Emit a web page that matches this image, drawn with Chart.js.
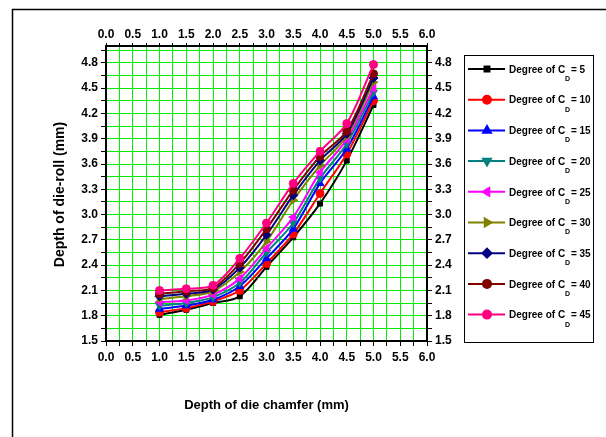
<!DOCTYPE html>
<html>
<head>
<meta charset="utf-8">
<script src="https://cdn.jsdelivr.net/npm/chart.js@4.4.0/dist/chart.umd.min.js"></script>
<style>
  html, body { margin: 0; padding: 0; background: #fff; }
  #wrap { width: 606px; height: 437px; position: relative; }
</style>
</head>
<body>
<div id="wrap"><canvas id="chart"></canvas></div>
<script>
// chamfer depth (mm)
var chamferDepth = [1.0, 1.5, 2.0, 2.5, 3.0, 3.5, 4.0, 4.5, 5.0];

// die-roll depth (mm) for each degree of CD
var cd5  = [1.81, 1.87, 1.95, 2.03, 2.38, 2.73, 3.13, 3.64, 4.30];
var cd10 = [1.84, 1.89, 1.97, 2.10, 2.42, 2.77, 3.25, 3.72, 4.35];
var cd15 = [1.88, 1.92, 1.99, 2.15, 2.48, 2.83, 3.37, 3.78, 4.40];
var cd20 = [1.92, 1.95, 2.02, 2.19, 2.55, 2.90, 3.43, 3.84, 4.45];
var cd25 = [1.96, 1.98, 2.05, 2.24, 2.60, 2.97, 3.50, 3.89, 4.50];
var cd30 = [2.00, 2.03, 2.09, 2.32, 2.68, 3.17, 3.58, 3.93, 4.57];
var cd35 = [2.03, 2.06, 2.11, 2.37, 2.76, 3.23, 3.64, 3.96, 4.62];
var cd40 = [2.06, 2.09, 2.13, 2.42, 2.83, 3.29, 3.69, 3.99, 4.67];
var cd45 = [2.10, 2.12, 2.16, 2.48, 2.90, 3.37, 3.75, 4.08, 4.78];

var degreeLabels = ['5', '10', '15', '20', '25', '30', '35', '40', '45'];
var seriesValues = [cd5, cd10, cd15, cd20, cd25, cd30, cd35, cd40, cd45];

// axis ticks
var xTicks = [];
for (var i = 0; i <= 24; i++) xTicks.push(i * 0.25);
var yTicks = [];
for (var j = 0; j <= 23; j++) yTicks.push(+(1.5 + j * 0.15).toFixed(2));

var colors = ['#000000', '#ff0000', '#0000ff', '#008080', '#ff00ff', '#808000', '#000080', '#800000', '#ff0080'];
var shapes = ['rect', 'circle', 'triangle', 'triangle', 'triangle', 'triangle', 'rectRot', 'circle', 'circle'];
var turns  = [0, 0, 0, 180, -90, 90, 0, 0, 0];
var sizes  = [3.5, 4, 4.5, 4.5, 4.5, 4.5, 4.5, 4, 4];

var FONT = '"Liberation Sans", Arial, sans-serif';

var datasets = seriesValues.map(function (vals, k) {
    return {
        label: 'Degree of CD = ' + degreeLabels[k],
        data: vals.map(function (v, n) { return { x: chamferDepth[n], y: v }; }),
        borderColor: colors[k],
        backgroundColor: colors[k],
        borderWidth: 2,
        pointStyle: shapes[k],
        rotation: turns[k],
        pointRadius: sizes[k],
        pointBorderWidth: 1,
        tension: 0.3,
        order: 9 - k
    };
});

function isMultiple(v, step, start) {
    var r = (v - start) / step;
    return Math.abs(r - Math.round(r)) < 1e-6;
}

function xLabel(v) { return isMultiple(v, 0.5, 0) ? v.toFixed(1) : ''; }
function yLabel(v) { return isMultiple(v, 0.3, 1.5) ? v.toFixed(1) : ''; }

function tickSet(list) {
    return function (scale) {
        scale.ticks = list.map(function (v) { return { value: v }; });
    };
}

function fixSize(prop, px) {
    return function (scale) { scale[prop] = px; };
}

var tickFont = { family: FONT, size: 12, weight: 'bold' };

var pagePlugin = {
    id: 'page',
    beforeDraw: function (chart) {
        var ctx = chart.ctx;
        ctx.save();
        ctx.fillStyle = '#fff';
        ctx.fillRect(0, 0, chart.width, chart.height);
        ctx.strokeStyle = '#000';
        ctx.lineWidth = 1.5;
        ctx.strokeRect(12.5, 9.5, 700, 600);
        ctx.restore();
    },
    afterDraw: function (chart) {
        var ctx = chart.ctx;
        var area = chart.chartArea;
        ctx.save();
        ctx.fillStyle = '#000';
        ctx.textAlign = 'center';
        ctx.textBaseline = 'middle';
        ctx.font = 'bold 13px ' + FONT;
        ctx.fillText('Depth of die chamfer (mm)', (area.left + area.right) / 2, 405);
        ctx.translate(60, (area.top + area.bottom) / 2 + 1);
        ctx.rotate(-Math.PI / 2);
        ctx.font = 'bold 14px ' + FONT;
        ctx.fillText('Depth of die-roll (mm)', 0, 0);
        ctx.restore();

        // legend box
        ctx.save();
        ctx.strokeStyle = '#000';
        ctx.lineWidth = 1;
        ctx.strokeRect(464.5, 55.5, 129, 287);
        chart.data.datasets.forEach(function (ds, k) {
            var y = 69 + k * 30.7;
            ctx.strokeStyle = ds.borderColor;
            ctx.lineWidth = 2;
            ctx.beginPath();
            ctx.moveTo(468, y);
            ctx.lineTo(505, y);
            ctx.stroke();
            ctx.fillStyle = ds.backgroundColor;
            Chart.helpers.drawPoint(ctx, {
                pointStyle: ds.pointStyle,
                rotation: ds.rotation,
                radius: ds.pointRadius,
                borderWidth: 1
            }, 487, y);
            ctx.fillStyle = '#000';
            ctx.textAlign = 'left';
            ctx.textBaseline = 'middle';
            ctx.font = 'bold 10px ' + FONT;
            var t = 'Degree of C';
            ctx.fillText(t, 509, y + 1);
            var w = ctx.measureText(t).width;
            ctx.font = 'bold 7px ' + FONT;
            ctx.fillText('D', 509 + w, y + 10);
            ctx.font = 'bold 10px ' + FONT;
            ctx.fillText(' = ' + degreeLabels[k], 509 + w + 3, y + 1);
        });
        ctx.restore();
    }
};

new Chart(document.getElementById('chart'), {
    type: 'line',
    data: { datasets: datasets },
    options: {
        responsive: true,
        maintainAspectRatio: false,
        animation: false,
        layout: { padding: 0 },
        plugins: { legend: { display: false }, tooltip: { enabled: false } },
        scales: {
            x: {
                type: 'linear', position: 'bottom', min: 0, max: 6,
                afterBuildTicks: tickSet(xTicks),
                afterFit: fixSize('height', 96),
                grid: { color: '#00ee00', lineWidth: 1, tickColor: '#000', tickLength: 5 },
                border: { color: '#000', width: 2 },
                ticks: { callback: xLabel, autoSkip: false, maxRotation: 0, color: '#000', font: tickFont, padding: 4 }
            },
            x2: {
                type: 'linear', position: 'top', min: 0, max: 6,
                afterBuildTicks: tickSet(xTicks),
                afterFit: fixSize('height', 46),
                grid: { drawOnChartArea: false, tickColor: '#000', tickLength: 3 },
                border: { color: '#000', width: 2 },
                ticks: { callback: xLabel, autoSkip: false, maxRotation: 0, color: '#000', font: tickFont, padding: 1 }
            },
            y: {
                type: 'linear', position: 'left', min: 1.5, max: 5.0,
                afterBuildTicks: tickSet(yTicks),
                afterFit: fixSize('width', 106),
                grid: { color: '#00ee00', lineWidth: 1, tickColor: '#000', tickLength: 5 },
                border: { color: '#000', width: 2 },
                ticks: { callback: yLabel, autoSkip: false, color: '#000', font: tickFont, padding: 3 }
            },
            y2: {
                type: 'linear', position: 'right', min: 1.5, max: 5.0,
                afterBuildTicks: tickSet(yTicks),
                afterFit: fixSize('width', 179),
                grid: { drawOnChartArea: false, tickColor: '#000', tickLength: 5 },
                border: { color: '#000', width: 2 },
                ticks: { callback: yLabel, autoSkip: false, color: '#000', font: tickFont, padding: 3 }
            }
        }
    },
    plugins: [pagePlugin]
});
</script>
</body>
</html>
